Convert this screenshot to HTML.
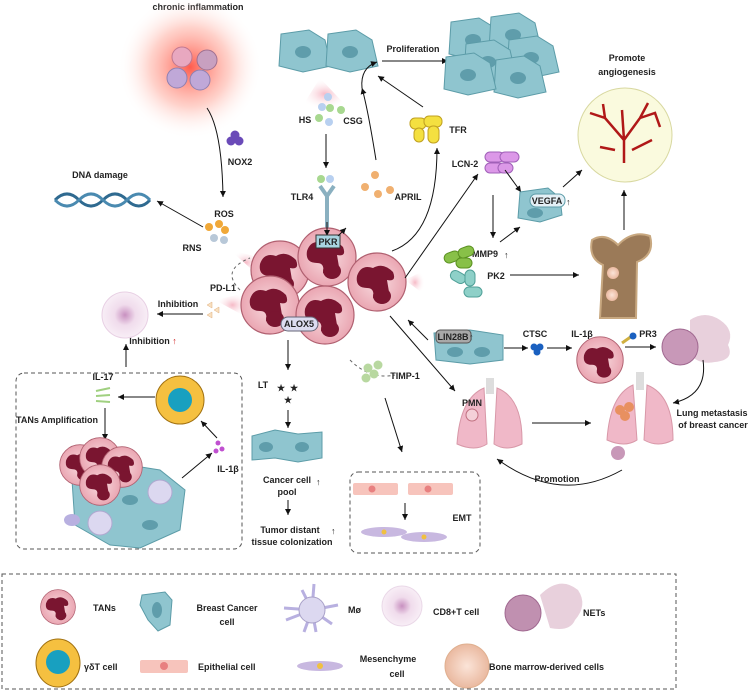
<!DOCTYPE html>
<html><head><meta charset="utf-8"><style>
body{margin:0;background:#fff}
svg{display:block}
text{font-family:"Liberation Sans",sans-serif;font-weight:bold;font-size:9px;fill:#222}
</style></head><body>
<svg width="749" height="691" viewBox="0 0 749 691" xmlns="http://www.w3.org/2000/svg">
<defs>
<radialGradient id="glow"><stop offset="0" stop-color="#ff4a3a" stop-opacity=".9"/><stop offset=".55" stop-color="#ff9a8a" stop-opacity=".45"/><stop offset="1" stop-color="#fff" stop-opacity="0"/></radialGradient>
<radialGradient id="tan"><stop offset="0" stop-color="#f8dce0"/><stop offset="1" stop-color="#eaa6b2"/></radialGradient>
<radialGradient id="cd8"><stop offset="0" stop-color="#c890c0"/><stop offset=".45" stop-color="#f0dcec"/><stop offset="1" stop-color="#f8eef6"/></radialGradient>
<radialGradient id="bone"><stop offset="0" stop-color="#fbe4d8"/><stop offset="1" stop-color="#eab9a0"/></radialGradient>
<radialGradient id="fan"><stop offset="0" stop-color="#f4a8b8" stop-opacity=".8"/><stop offset="1" stop-color="#fff" stop-opacity="0"/></radialGradient>
<marker id="a" markerWidth="8" markerHeight="8" refX="6" refY="3" orient="auto"><path d="M0,0 L6,3 L0,6 z" fill="#111"/></marker>
<g id="tanc"><circle r="29" fill="url(#tan)" stroke="#b06070" stroke-width="1.2"/><path d="M-20,-6 Q-16,-18 -4,-14 Q6,-20 16,-10 Q20,0 10,-2 L12,10 Q8,22 -4,16 Q-2,6 -10,6 Q-22,6 -20,-6Z" fill="#7a1530"/><ellipse cx="5" cy="14" rx="9" ry="8" fill="#7a1530"/></g>
<g id="bcc"><path d="M-24,-18 L4,-22 L20,-12 L26,14 L-2,20 L-26,14 Z" fill="#8fc5cf" stroke="#5c9ca8"/><ellipse cx="-2" cy="0" rx="8" ry="6" fill="#5f9dab"/></g>
</defs>

<text x="198" y="10" text-anchor="middle">chronic inflammation</text>
<circle cx="190" cy="67" r="72" fill="url(#glow)"/>
<circle cx="182" cy="57" r="10" fill="#e8a8c0" stroke="#c07890"/><circle cx="207" cy="60" r="10" fill="#c8a0c0" stroke="#a07090"/><circle cx="177" cy="78" r="10" fill="#c0a8d8" stroke="#9080b0"/><circle cx="200" cy="80" r="10" fill="#c0a8d8" stroke="#9080b0"/>
<path d="M207,108 Q222,130 223,197" stroke="#111" fill="none" marker-end="url(#a)"/>
<circle cx="231" cy="141" r="4.5" fill="#6a4ab8"/><circle cx="239" cy="141" r="4.5" fill="#6a4ab8"/><circle cx="235" cy="135" r="4.5" fill="#6a4ab8"/>
<text x="240" y="165" text-anchor="middle">NOX2</text>
<text x="100" y="178" text-anchor="middle">DNA damage</text>
<path d="M55,200 Q67,188 79,200 T103,200 T127,200 T150,200" stroke="#2f6a90" stroke-width="3" fill="none"/>
<path d="M55,200 Q67,212 79,200 T103,200 T127,200 T150,200" stroke="#4a8ab0" stroke-width="3" fill="none"/>
<line x1="203" y1="227" x2="157" y2="201" stroke="#111" marker-end="url(#a)"/>
<text x="224" y="217" text-anchor="middle">ROS</text>
<text x="192" y="251" font-size="10" text-anchor="middle">RNS</text>
<circle cx="209" cy="227" r="4" fill="#f0a838"/><circle cx="219" cy="224" r="4" fill="#f0a838"/><circle cx="225" cy="230" r="4" fill="#f0a838"/><circle cx="214" cy="238" r="4" fill="#b8c8d8"/><circle cx="224" cy="240" r="4" fill="#b8c8d8"/>

<path d="M230,250 L262,258 L258,275 Z" fill="url(#fan)"/>
<path d="M320,78 L300,110 L350,110 Z" fill="url(#fan)"/>
<path d="M215,300 L250,292 L248,318 Z" fill="url(#fan)"/>
<path d="M405,280 L425,270 L425,295 Z" fill="url(#fan)"/>

<use href="#bcc" x="305" y="52"/><use href="#bcc" x="352" y="52"/>
<text x="413" y="52" text-anchor="middle">Proliferation</text>
<line x1="382" y1="61" x2="448" y2="61" stroke="#111" marker-end="url(#a)"/>
<g><use href="#bcc" x="475" y="40"/><use href="#bcc" x="515" y="35"/><use href="#bcc" x="533" y="58"/><use href="#bcc" x="490" y="62"/><use href="#bcc" x="520" y="78"/><use href="#bcc" x="470" y="75"/></g>
<circle cx="328" cy="97" r="4" fill="#b8d0f0"/><circle cx="322" cy="107" r="4" fill="#b8d0f0"/><circle cx="330" cy="108" r="4" fill="#a8d890"/><circle cx="341" cy="110" r="4" fill="#a8d890"/><circle cx="319" cy="118" r="4" fill="#a8d890"/><circle cx="329" cy="122" r="4" fill="#b8d0f0"/>
<text x="305" y="123" text-anchor="middle">HS</text><text x="353" y="124" text-anchor="middle">CSG</text>
<line x1="326" y1="134" x2="326" y2="168" stroke="#111" marker-end="url(#a)"/>
<circle cx="321" cy="179" r="4" fill="#a8d890"/><circle cx="330" cy="179" r="4" fill="#b8d0f0"/>
<text x="302" y="200" text-anchor="middle">TLR4</text>
<path d="M320,186 L327,196 L334,186 M327,196 L327,232" stroke="#8ab0c0" stroke-width="4" fill="none"/>
<circle cx="375" cy="175" r="4" fill="#f0b070"/><circle cx="365" cy="187" r="4" fill="#f0b070"/><circle cx="378" cy="194" r="4" fill="#f0b070"/><circle cx="390" cy="190" r="4" fill="#f0b070"/>
<text x="408" y="200" text-anchor="middle">APRIL</text>
<path d="M376,160 Q368,110 362,88" stroke="#111" fill="none" marker-end="url(#a)"/>
<path d="M362,88 Q360,68 377,62" stroke="#111" fill="none" marker-end="url(#a)"/>
<line x1="423" y1="107" x2="378" y2="76" stroke="#111" marker-end="url(#a)"/>
<g fill="#f4e040" stroke="#c0a020"><rect x="410" y="118" width="16" height="11" rx="5"/><rect x="424" y="116" width="18" height="11" rx="5"/><rect x="414" y="128" width="10" height="14" rx="5"/><rect x="428" y="126" width="11" height="17" rx="5"/></g>
<text x="458" y="133" text-anchor="middle">TFR</text>
<path d="M392,251 Q437,235 437,148" stroke="#111" fill="none" marker-end="url(#a)"/>

<use href="#tanc" x="280" y="270"/><use href="#tanc" x="327" y="257"/><use href="#tanc" x="377" y="282"/><use href="#tanc" x="270" y="305"/><use href="#tanc" x="325" y="315"/>
<line x1="327" y1="222" x2="327" y2="236" stroke="#111" marker-end="url(#a)"/>
<rect x="316" y="235" width="24" height="13" fill="#a8d4e0" stroke="#333"/><text x="328" y="245" text-anchor="middle">PKR</text>
<line x1="338" y1="236" x2="346" y2="228" stroke="#111" marker-end="url(#a)"/>
<rect x="281" y="317" width="37" height="14" rx="7" fill="#dcdcf0" stroke="#667"/><text x="299" y="327" text-anchor="middle">ALOX5</text>
<text x="223" y="291" text-anchor="middle">PD-L1</text>
<text x="178" y="307" text-anchor="middle">Inhibition</text>
<path d="M207,305 l5,-3 l0,6z M207,315 l5,-3 l0,6z M214,310 l5,-3 l0,6z" fill="#f8e0c0" stroke="#e0b080" stroke-width=".5"/>
<line x1="203" y1="314" x2="157" y2="314" stroke="#111" marker-end="url(#a)"/>
<text x="153" y="344" text-anchor="middle">Inhibition <tspan fill="#d02020">↑</tspan></text>
<circle cx="125" cy="315" r="23" fill="url(#cd8)" stroke="#e8d0e4"/>
<line x1="126" y1="367" x2="126" y2="344" stroke="#111" marker-end="url(#a)"/>
<path d="M240,290 Q220,270 250,258" stroke="#666" stroke-dasharray="3,3" fill="none"/>
<path d="M350,360 Q370,380 395,375" stroke="#666" stroke-dasharray="3,3" fill="none"/>

<line x1="405" y1="278" x2="478" y2="174" stroke="#111" marker-end="url(#a)"/>
<g fill="#dc98e8" stroke="#a060b8"><rect x="485" y="152" width="19" height="10" rx="5"/><rect x="500" y="152" width="19" height="10" rx="5"/><rect x="485" y="163" width="19" height="10" rx="5"/><rect x="498" y="163" width="15" height="10" rx="5"/></g>
<text x="465" y="167" text-anchor="middle">LCN-2</text>
<line x1="505" y1="170" x2="521" y2="192" stroke="#111" marker-end="url(#a)"/>
<line x1="493" y1="195" x2="493" y2="238" stroke="#111" marker-end="url(#a)"/>
<path d="M520,192 L548,188 L560,198 L562,215 L540,222 L518,218 Z" fill="#8fc5cf" stroke="#5c9ca8"/>
<ellipse cx="535" cy="213" rx="8" ry="5" fill="#5f9dab"/>
<rect x="530" y="194" width="35" height="13" rx="6" fill="#e4f0f6" stroke="#5c9ca8"/><text x="547" y="204" text-anchor="middle">VEGFA</text>
<text x="566" y="205" fill="#d02020">↑</text>
<line x1="563" y1="187" x2="582" y2="170" stroke="#111" marker-end="url(#a)"/>
<text x="485" y="257" text-anchor="middle">MMP9</text><text x="504" y="258" fill="#d02020">↑</text>
<line x1="500" y1="242" x2="520" y2="227" stroke="#111" marker-end="url(#a)"/>
<g fill="#88c048" stroke="#5a9020"><rect x="444" y="252" width="16" height="10" rx="5" transform="rotate(-20 452 257)"/><rect x="458" y="247" width="16" height="10" rx="5" transform="rotate(-20 466 252)"/><rect x="456" y="258" width="16" height="10" rx="5"/></g>
<g fill="#8ed0c8" stroke="#50a098"><rect x="450" y="272" width="16" height="10" rx="5" transform="rotate(30 458 277)"/><rect x="465" y="270" width="10" height="16" rx="5"/><rect x="464" y="287" width="18" height="10" rx="5"/></g>
<text x="496" y="279" text-anchor="middle">PK2</text>
<line x1="510" y1="275" x2="579" y2="275" stroke="#111" marker-end="url(#a)"/>
<text x="627" y="61" text-anchor="middle">Promote</text>
<text x="627" y="75" text-anchor="middle">angiogenesis</text>
<circle cx="625" cy="135" r="47" fill="#fafade" stroke="#d8d8a0"/>
<path d="M624,163 L624,140 L605,118 L590,113 M624,140 L640,118 L648,103 M605,118 L603,104 M640,118 L655,113 L660,127 M615,150 L600,147 M632,150 L652,140 M624,140 L622,110" stroke="#b01818" stroke-width="2.5" fill="none"/>
<line x1="624" y1="230" x2="624" y2="190" stroke="#111" marker-end="url(#a)"/>
<path d="M592,240 Q605,232 618,245 Q632,230 650,236 Q655,255 637,262 L636,318 L600,318 L603,265 Q588,258 592,240 Z" fill="#9b7a58" stroke="#c8a880" stroke-width="2"/>
<circle cx="613" cy="273" r="6" fill="url(#bone)"/><circle cx="612" cy="295" r="6" fill="url(#bone)"/>

<line x1="428" y1="340" x2="408" y2="320" stroke="#111" marker-end="url(#a)"/>
<path d="M434,333 L470,330 L503,335 L503,360 L470,364 L436,360 Z" fill="#8fc5cf" stroke="#5c9ca8"/>
<ellipse cx="455" cy="352" rx="8" ry="5" fill="#5f9dab"/><ellipse cx="482" cy="352" rx="8" ry="5" fill="#5f9dab"/>
<rect x="436" y="330" width="35" height="13" rx="4" fill="#a8a8a8" stroke="#555"/><text x="453" y="340" text-anchor="middle">LIN28B</text>
<text x="469" y="340" fill="#d02020">↑</text>
<text x="535" y="337" font-size="10" text-anchor="middle">CTSC</text>
<line x1="504" y1="348" x2="528" y2="348" stroke="#111" marker-end="url(#a)"/>
<circle cx="534" cy="347" r="3.5" fill="#1a60c0"/><circle cx="540" cy="347" r="3.5" fill="#1a60c0"/><circle cx="537" cy="352" r="3.5" fill="#1a60c0"/>
<line x1="547" y1="348" x2="572" y2="348" stroke="#111" marker-end="url(#a)"/>
<text x="582" y="337" font-size="10" text-anchor="middle">IL-1β</text>
<g transform="translate(600,360) scale(.8)"><use href="#tanc"/></g>
<line x1="622" y1="343" x2="632" y2="336" stroke="#d0b040" stroke-width="3"/><circle cx="633" cy="336" r="3.5" fill="#1a60c0"/>
<text x="648" y="337" text-anchor="middle">PR3</text>
<line x1="625" y1="347" x2="656" y2="347" stroke="#111" marker-end="url(#a)"/>
<path d="M690,320 Q705,310 720,320 Q735,330 728,345 Q735,360 715,362 Q700,365 690,355 Z" fill="#e8d0dc"/>
<circle cx="680" cy="347" r="18" fill="#c898b8" stroke="#a06890"/>
<path d="M703,360 Q708,395 673,403" stroke="#111" fill="none" marker-end="url(#a)"/>
<text x="712" y="416" text-anchor="middle">Lung metastasis</text>
<text x="713" y="428" text-anchor="middle">of breast cancer</text>
<g fill="#f0b8c8" stroke="#d898a8"><path d="M633,385 Q610,395 607,440 Q625,448 637,440 Z"/><path d="M647,385 Q673,395 673,440 Q658,448 644,440 Z"/></g>
<rect x="636" y="372" width="8" height="18" fill="#ddd"/>
<circle cx="620" cy="410" r="5" fill="#e89060"/><circle cx="629" cy="407" r="5" fill="#e89060"/><circle cx="625" cy="416" r="5" fill="#e89060"/>
<circle cx="618" cy="453" r="7" fill="#c898b8"/>
<path d="M622,470 Q560,505 497,459" stroke="#111" fill="none" marker-end="url(#a)"/>
<text x="557" y="482" text-anchor="middle">Promotion</text>
<line x1="390" y1="316" x2="455" y2="391" stroke="#111" marker-end="url(#a)"/>
<g fill="#f0b8c8" stroke="#d898a8"><path d="M484,388 Q460,398 457,444 Q475,452 487,444 Z"/><path d="M497,388 Q523,398 522,444 Q506,452 494,444 Z"/></g>
<rect x="486" y="378" width="8" height="16" fill="#ddd"/>
<circle cx="472" cy="415" r="6" fill="#f4d0d8" stroke="#c07080"/>
<text x="472" y="406" text-anchor="middle">PMN</text>
<line x1="532" y1="423" x2="591" y2="423" stroke="#111" marker-end="url(#a)"/>

<line x1="288" y1="340" x2="288" y2="370" stroke="#111" marker-end="url(#a)"/>
<text x="263" y="388" text-anchor="middle">LT</text>
<text x="277" y="391" font-size="12" fill="#d8a8c8">★</text><text x="290" y="391" font-size="12" fill="#d8a8c8">★</text><text x="284" y="403" font-size="12" fill="#d8a8c8">★</text>
<line x1="288" y1="410" x2="288" y2="428" stroke="#111" marker-end="url(#a)"/>
<path d="M252,436 L275,430 L298,434 L322,432 L322,458 L298,462 L275,458 L252,460 Z" fill="#8fc5cf" stroke="#5c9ca8"/>
<ellipse cx="266" cy="447" rx="7" ry="5" fill="#5f9dab"/><ellipse cx="302" cy="447" rx="7" ry="5" fill="#5f9dab"/>
<text x="287" y="483" text-anchor="middle">Cancer cell</text><text x="316" y="485" fill="#d02020">↑</text>
<text x="287" y="495" text-anchor="middle">pool</text>
<line x1="288" y1="500" x2="288" y2="515" stroke="#111" marker-end="url(#a)"/>
<text x="290" y="533" text-anchor="middle">Tumor distant</text><text x="331" y="534" fill="#d02020">↑</text>
<text x="292" y="545" text-anchor="middle">tissue colonization</text>

<circle cx="368" cy="368" r="4.5" fill="#b8d8a0"/><circle cx="374" cy="374" r="4.5" fill="#b8d8a0"/><circle cx="366" cy="378" r="4.5" fill="#b8d8a0"/><circle cx="378" cy="365" r="4.5" fill="#b8d8a0"/>
<text x="405" y="379" text-anchor="middle">TIMP-1</text>
<line x1="385" y1="398" x2="402" y2="452" stroke="#111" marker-end="url(#a)"/>
<rect x="350" y="472" width="130" height="81" rx="8" fill="none" stroke="#555" stroke-dasharray="4,3"/>
<rect x="353" y="483" width="45" height="12" rx="2" fill="#f7c4bc"/><circle cx="372" cy="489" r="3.5" fill="#e88080"/>
<rect x="408" y="483" width="45" height="12" rx="2" fill="#f7c4bc"/><circle cx="428" cy="489" r="3.5" fill="#e88080"/>
<line x1="405" y1="503" x2="405" y2="520" stroke="#111" marker-end="url(#a)"/>
<ellipse cx="384" cy="532" rx="23" ry="5" fill="#c8b8e0"/><circle cx="384" cy="532" r="2.5" fill="#f0c040"/>
<ellipse cx="424" cy="537" rx="23" ry="5" fill="#c8b8e0"/><circle cx="424" cy="537" r="2.5" fill="#f0c040"/>
<text x="462" y="521" font-size="10" fill="#40a8f0" text-anchor="middle">EMT</text>

<rect x="16" y="373" width="226" height="176" rx="8" fill="none" stroke="#555" stroke-dasharray="4,3"/>
<text x="103" y="380" text-anchor="middle">IL-17</text>
<path d="M96,391 l14,-3 M96,396 l14,-1 M96,401 l14,1" stroke="#a0d080" stroke-width="2"/>
<line x1="155" y1="397" x2="118" y2="397" stroke="#111" marker-end="url(#a)"/>
<text x="57" y="423" text-anchor="middle">TANs Amplification</text>
<line x1="105" y1="408" x2="105" y2="440" stroke="#111" marker-end="url(#a)"/>
<circle cx="180" cy="400" r="24" fill="#f5c040" stroke="#a07010"/><circle cx="180" cy="400" r="12" fill="#18a0c0"/>
<line x1="217" y1="438" x2="201" y2="421" stroke="#111" marker-end="url(#a)"/>
<circle cx="218" cy="443" r="2.5" fill="#c050d0"/><circle cx="222" cy="449" r="2.5" fill="#c050d0"/><circle cx="216" cy="451" r="2.5" fill="#c050d0"/>
<text x="228" y="472" font-size="10" text-anchor="middle">IL-1β</text>
<line x1="182" y1="478" x2="212" y2="453" stroke="#111" marker-end="url(#a)"/>
<path d="M72,480 L110,462 L160,470 L185,490 L180,530 L140,548 L110,545 L75,525 Z" fill="#8fc5cf" stroke="#5c9ca8"/>
<ellipse cx="130" cy="500" rx="8" ry="5" fill="#5f9dab"/><ellipse cx="150" cy="525" rx="8" ry="5" fill="#5f9dab"/>
<g transform="translate(80,465) scale(.7)"><use href="#tanc"/></g>
<g transform="translate(100,458) scale(.7)"><use href="#tanc"/></g>
<g transform="translate(122,467) scale(.7)"><use href="#tanc"/></g>
<g transform="translate(100,485) scale(.7)"><use href="#tanc"/></g>
<circle cx="160" cy="492" r="12" fill="#dcd8f0" stroke="#b0a8d0"/>
<circle cx="100" cy="523" r="12" fill="#dcd8f0" stroke="#b0a8d0"/>
<ellipse cx="72" cy="520" rx="8" ry="6" fill="#b8b0e0"/>

<rect x="2" y="574" width="674" height="115" fill="none" stroke="#555" stroke-dasharray="4,3"/>
<g transform="translate(58,607) scale(.6)"><use href="#tanc"/></g>
<text x="93" y="611">TANs</text>
<path d="M142,595 L165,592 L172,600 L170,625 L158,631 L148,620 L140,605 Z" fill="#8fc5cf" stroke="#5c9ca8"/><ellipse cx="157" cy="610" rx="5" ry="8" fill="#5f9dab"/>
<text x="227" y="611" text-anchor="middle">Breast Cancer</text><text x="227" y="625" text-anchor="middle">cell</text>
<path d="M312,610 l-28,-2 M312,610 l-26,10 M312,610 l26,-5 M312,610 l20,14 M312,610 l-8,22 M312,610 l4,22 M312,610 l2,-26 M312,610 l-10,-20" stroke="#b8b0e0" stroke-width="3"/>
<circle cx="312" cy="610" r="13" fill="#dcd8f0" stroke="#a8a0c8"/>
<text x="348" y="613">Mø</text>
<circle cx="402" cy="606" r="20" fill="url(#cd8)" stroke="#ead8e8"/>
<text x="433" y="615">CD8+T cell</text>
<path d="M540,595 Q560,575 578,590 Q588,605 575,620 Q570,632 550,628 Z" fill="#e8d0dc"/>
<circle cx="523" cy="613" r="18" fill="#c090b0" stroke="#a06890"/>
<text x="583" y="616">NETs</text>
<ellipse cx="58" cy="663" rx="22" ry="24" fill="#f5c040" stroke="#a07010"/><circle cx="58" cy="662" r="12" fill="#18a0c0"/>
<text x="84" y="670">γδT cell</text>
<rect x="140" y="660" width="48" height="13" rx="2" fill="#f7c4bc"/><circle cx="164" cy="666" r="4" fill="#e88080"/>
<text x="198" y="670">Epithelial cell</text>
<ellipse cx="320" cy="666" rx="23" ry="5" fill="#c8b8e0"/><circle cx="320" cy="666" r="3" fill="#f0c040"/>
<text x="388" y="662" text-anchor="middle">Mesenchyme</text><text x="397" y="677" text-anchor="middle">cell</text>
<circle cx="467" cy="666" r="22" fill="url(#bone)" stroke="#e0b090"/>
<text x="489" y="670">Bone marrow-derived cells</text>
</svg>
</body></html>
